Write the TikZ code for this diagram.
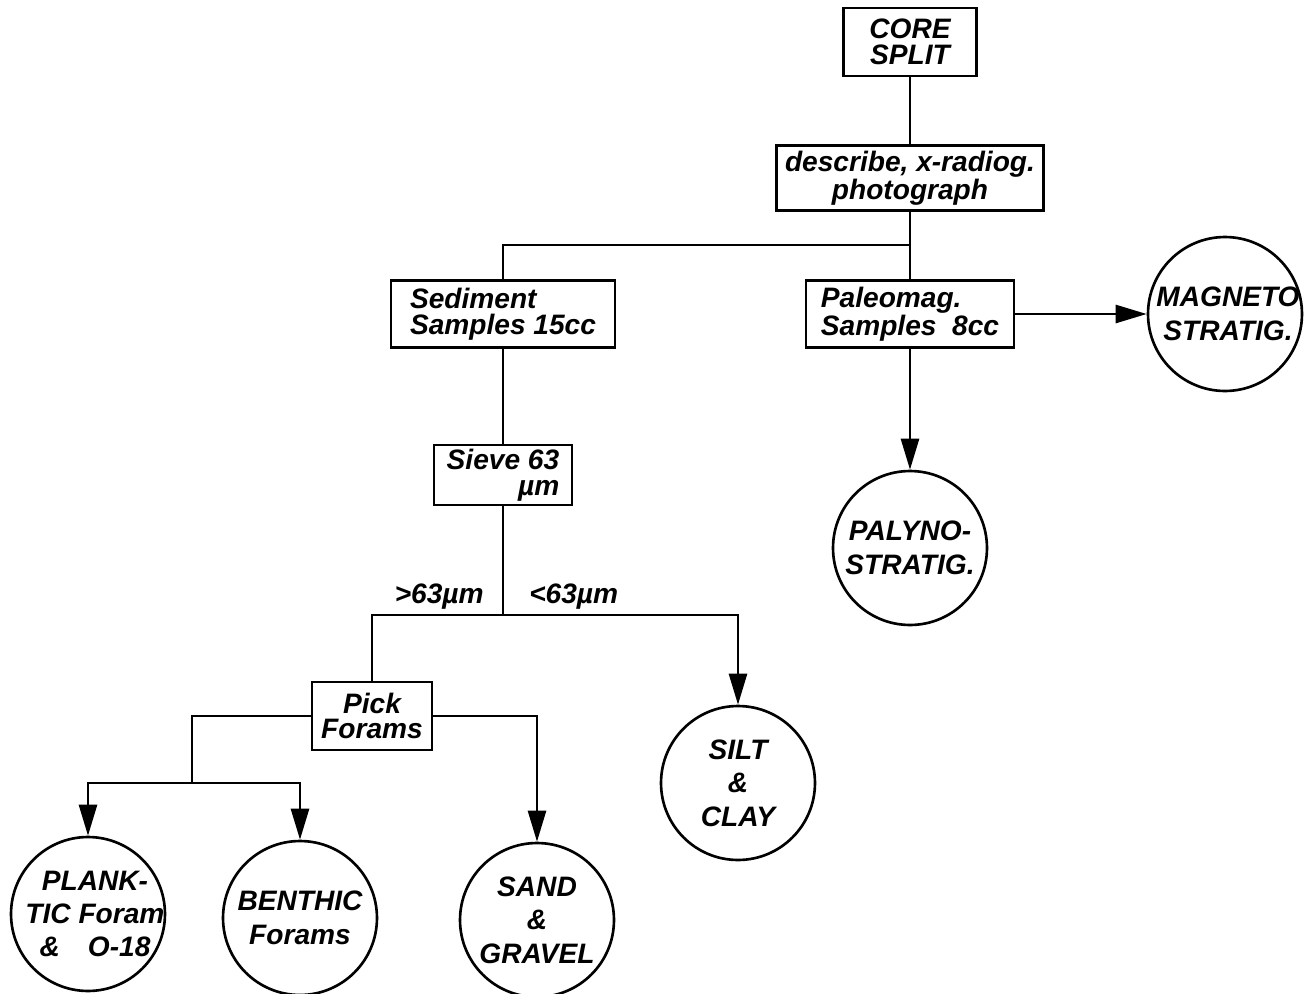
\documentclass[tikz,border=0pt]{standalone}
\usepackage{fontspec}
\setmainfont{Liberation Sans}
\usetikzlibrary{arrows.meta}

\tikzset{
  box/.style={draw, inner sep=0pt, align=center, font=\bfseries\itshape\fontsize{16}{14.5}\selectfont},
  disc/.style={circle, draw, minimum size=3.08cm, inner sep=0pt},
  disctext/.style={align=center, font=\bfseries\itshape\fontsize{16}{19}\selectfont},
  lbl/.style={font=\bfseries\itshape\fontsize{16}{16}\selectfont, inner sep=0pt},
  arr/.style={-{Triangle[length=0.62cm,width=0.36cm]}},
}

\begin{document}
\begin{tikzpicture}[x=0.02cm,y=-0.02cm,line width=1.5pt]
\useasboundingbox (0,0) rectangle (1313,994);
% boxes
\node[box,minimum width=2.66cm,minimum height=1.36cm] (core) at (910,42) {CORE\\SPLIT};
\node[box,minimum width=5.34cm,minimum height=1.3cm] (describe) at (910,178) {describe, x-radiog.\\photograph};
\node[box,minimum width=4.48cm,minimum height=1.34cm,align=left] (sediment) at (503,314) {Sediment\\Samples 15cc};
\node[box,minimum width=4.16cm,minimum height=1.34cm,align=left] (paleo) at (910,314) {Paleomag.\\Samples\ \ 8cc};
\node[box,minimum width=2.76cm,minimum height=1.2cm,align=right] (sieve) at (503,475) {Sieve 63\\µm};
\node[box,minimum width=2.4cm,minimum height=1.36cm] (pick) at (372,716) {Pick\\Forams};
% circles
\node[disc,label={[disctext,xshift=0.06cm]center:MAGNETO\\STRATIG.}] (magneto) at (1225,314) {};
\node[disc,label={[disctext]center:PALYNO-\\STRATIG.}] (palyno) at (910,548) {};
\node[disc,label={[disctext]center:SILT\\\&\\CLAY}] (silt) at (738,783) {};
\node[disc,label={[disctext,xshift=0.14cm]center:PLANK-\\TIC Foram\\\&\quad O-18}] (planktic) at (88,914) {};
\node[disc,label={[disctext]center:BENTHIC\\Forams}] (benthic) at (300,918) {};
\node[disc,label={[disctext]center:SAND\\\&\\GRAVEL}] (sand) at (537,920) {};
% size labels
\node[lbl,anchor=base east] (coarse) at (485,603) {>63µm};
\node[lbl,anchor=base west] (fine) at (528,603) {<63µm};
% connectors
\coordinate (fork1) at (910,245);
\coordinate (fork2) at (503,615);
\coordinate (fork3) at (192,783);
\draw (core) -- (describe);
\draw (describe) -- (fork1) -| (sediment);
\draw (fork1) -- (paleo);
\draw[arr] (paleo) -- (magneto);
\draw[arr] (paleo) -- (palyno);
\draw (sediment) -- (sieve);
\draw (sieve) -- (fork2);
\draw (pick) |- (fork2);
\draw[arr] (fork2) -| (silt);
\draw (pick) -| (fork3);
\draw[arr] (fork3) -| (planktic);
\draw[arr] (fork3) -| (benthic);
\draw[arr] (pick) -| (sand);
\end{tikzpicture}
\end{document}
